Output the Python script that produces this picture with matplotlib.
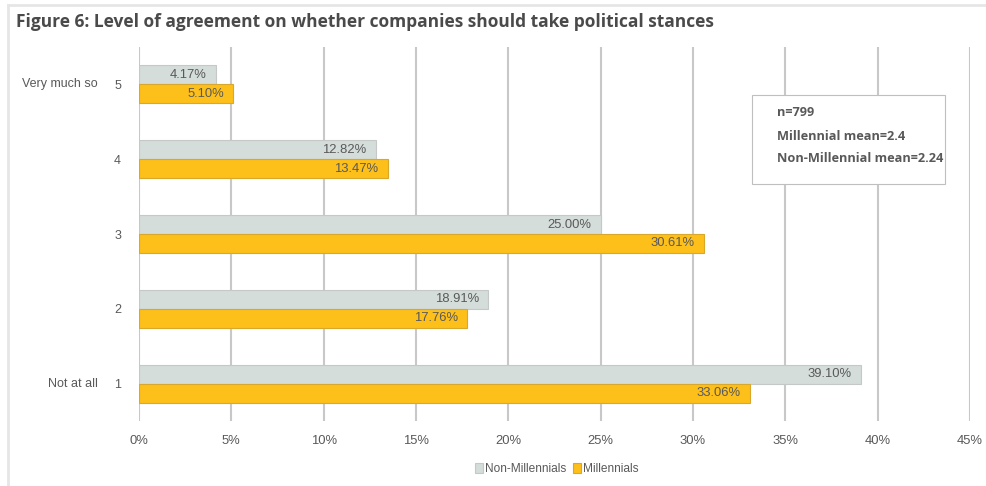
import matplotlib
matplotlib.use("Agg")
import matplotlib.pyplot as plt
from matplotlib.patches import Rectangle
from matplotlib.lines import Line2D
import numpy as np

# Survey responses, 1 = "Not at all" ... 5 = "Very much so"
levels = ["1", "2", "3", "4", "5"]
level_names = ["Not at all", "", "", "", "Very much so"]
non_millennials = [39.10, 18.91, 25.00, 12.82, 4.17]
millennials = [33.06, 17.76, 30.61, 13.47, 5.10]
x_ticks = [0, 5, 10, 15, 20, 25, 30, 35, 40, 45]
note_lines = ["n=799", "Millennial mean=2.4", "Non-Millennial mean=2.24"]

GRAY = "#d4ddda"
GRAY_EDGE = "#c4c9c7"
GOLD = "#fdbf1a"
GOLD_EDGE = "#d9a82a"
TEXT = "#595959"
GRID = "#c8c8c8"

W, H = 986, 486
fig = plt.figure(figsize=(W / 100, H / 100), dpi=100)
fig.patch.set_facecolor("white")

# Outer frame lines (top and left)
fig.add_artist(Line2D([8 / W, 1.0], [1 - 5 / H, 1 - 5 / H], color="#e6e6e6",
                      lw=2, transform=fig.transFigure))
fig.add_artist(Line2D([8 / W, 8 / W], [0, 1 - 5 / H], color="#e6e6e6",
                      lw=2, transform=fig.transFigure))

fig.text(16 / W, 1 - 22 / H,
         "Figure 6: Level of agreement on whether companies should take political stances",
         fontfamily="Open Sans", fontweight="bold", fontsize=12.5, color="#4a4a4a",
         ha="left", va="center")

left, right = 139 / W, 970 / W
top, bottom = 1 - 47 / H, 1 - 421 / H
ax = fig.add_axes([left, bottom, right - left, top - bottom])

y = np.arange(len(levels))
h = 0.254
ax.barh(y + h / 2, non_millennials, height=h, color=GRAY, edgecolor=GRAY_EDGE,
        linewidth=0.8, zorder=3, label="Non-Millennials")
ax.barh(y - h / 2, millennials, height=h, color=GOLD, edgecolor=GOLD_EDGE,
        linewidth=0.8, zorder=3, label="Millennials")

LBL = 9.4
for yi, v in zip(y, non_millennials):
    ax.text(v - 0.5, yi + h / 2, f"{v:.2f}%", ha="right", va="center",
            fontfamily="Liberation Sans", fontsize=LBL, color=TEXT, zorder=4)
for yi, v in zip(y, millennials):
    ax.text(v - 0.5, yi - h / 2, f"{v:.2f}%", ha="right", va="center",
            fontfamily="Liberation Sans", fontsize=LBL, color=TEXT, zorder=4)

ax.set_xlim(0, 45)
ax.set_ylim(-0.5, len(levels) - 0.5)
ax.set_xticks(x_ticks)
ax.set_xticklabels([f"{t}%" for t in x_ticks], fontfamily="Liberation Sans",
                   fontsize=9.4, color=TEXT)
ax.set_yticks(y)
ax.set_yticklabels(levels, fontfamily="Liberation Sans", fontsize=9.0, color=TEXT)
ax.tick_params(axis="both", length=0)
ax.tick_params(axis="x", pad=10)
ax.tick_params(axis="y", pad=13)
for s in ax.spines.values():
    s.set_visible(False)
ax.xaxis.grid(True, color=GRID, linewidth=1.5, zorder=0)
ax.set_axisbelow(True)

for yi, name in zip(y, level_names):
    if name:
        ax.text(-41 / 18.47, yi, name, ha="right", va="center",
                fontfamily="Liberation Sans", fontsize=9.0, color=TEXT)

# Summary statistics box
bx0, by0, bx1, by1 = 752, 95, 945, 184
fig.add_artist(Rectangle((bx0 / W, 1 - by1 / H), (bx1 - bx0) / W, (by1 - by0) / H,
                         transform=fig.transFigure, facecolor="white",
                         edgecolor="#bfbfbf", linewidth=0.8, zorder=5))
for i, line in enumerate(note_lines):
    fig.text(777 / W, 1 - (113 + 23 * i) / H, line, fontfamily="Open Sans",
             fontweight="bold", fontsize=9.2, color=TEXT, ha="left", va="center",
             zorder=6)

leg = fig.legend(loc="center", bbox_to_anchor=(557 / W, 1 - 469 / H), ncol=2,
                 frameon=False, prop={"family": "Liberation Sans", "size": 8.6},
                 handlelength=0.6, handleheight=0.9, handletextpad=0.2,
                 columnspacing=0.6)
for t in leg.get_texts():
    t.set_color(TEXT)

fig.savefig("out.png", dpi=100, facecolor="white")
